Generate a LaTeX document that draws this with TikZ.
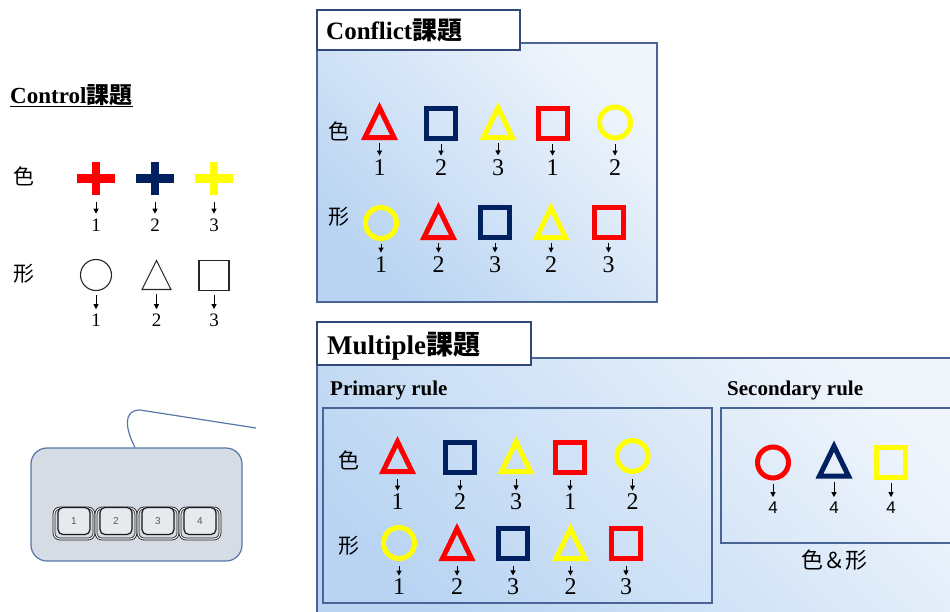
\documentclass[tikz,border=0pt]{standalone}
\usepackage{fontspec}
\setmainfont{Liberation Serif}
\newfontfamily\cjk{Noto Sans CJK JP}
\newfontfamily\arial{Liberation Sans}
\usetikzlibrary{arrows.meta}

\definecolor{gRed}{RGB}{255,0,0}
\definecolor{gNavy}{RGB}{0,32,96}
\definecolor{gYellow}{RGB}{255,255,0}
\definecolor{panelLine}{RGB}{74,100,150}
\definecolor{headLine}{RGB}{50,72,120}
\definecolor{panelDeep}{RGB}{184,212,242}
\definecolor{panelPale}{RGB}{240,245,252}
\definecolor{padFill}{RGB}{214,220,228}
\definecolor{padLine}{RGB}{88,118,168}

\tikzset{
  glyphsq/.style={draw=#1, line width=5pt, minimum width=29pt, minimum height=30pt,
                  inner sep=0pt, outer sep=2.5pt},
  glyphci/.style={circle, draw=#1, line width=5pt, minimum size=31pt,
                  inner sep=0pt, outer sep=2.5pt},
  glyphbox/.style={minimum width=37pt, minimum height=38pt, inner sep=0pt, outer sep=0pt},
  crossbox/.style={minimum width=38pt, minimum height=33pt, inner sep=0pt, outer sep=0pt},
  num/.style={font=\fontsize{24}{24}\selectfont, inner sep=0pt, outer sep=0pt},
  pick/.style={-{Triangle[length=5pt,width=5pt]}, line width=0.9pt,
               shorten <=3pt, shorten >=4.5pt},
  rowlbl/.style={font=\cjk\fontsize{21}{21}\selectfont, inner sep=0pt},
  headtxt/.style={font=\bfseries\fontsize{#1}{#1}\selectfont, inner sep=0pt},
  rulelbl/.style={font=\bfseries\fontsize{21}{21}\selectfont, inner sep=0pt},
  panel/.style={draw=panelLine, line width=1.3pt, bottom color=panelDeep,
                top color=panelPale, shading angle=-45},
  headbox/.style={draw=headLine, line width=1.3pt, fill=white},
  subbox/.style={draw=panelLine, line width=1.3pt},
  keycap/.style={draw=black!90, line width=0.8pt, double=padFill!40!white,
                 double distance=1.1pt, rounded corners=6pt,
                 minimum width=40pt, minimum height=31pt, inner sep=0pt},
  keytop/.style={draw=black!90, line width=1.2pt, rounded corners=5pt, fill=padFill!60!white,
                 minimum width=32pt, minimum height=27pt, inner sep=0pt,
                 font=\arial\fontsize{10}{10}\selectfont, text=black!65},
}

% glyphs: #1 name, #2 centre, #3 colour
\newcommand\glyphTri[3]{%
  \node[glyphbox] (#1) at (#2) {};
  \draw[line width=5pt, line join=miter, draw=#3]
    ([shift={(0,-13.3)}]#1.center) -- ([shift={(-14.5,16.5)}]#1.center)
    -- ([shift={(14.5,16.5)}]#1.center) -- cycle;}
\newcommand\glyphSq[3]{\node[glyphsq=#3] (#1) at (#2) {};}
\newcommand\glyphCi[3]{\node[glyphci=#3] (#1) at (#2) {};}
\newcommand\glyphCross[3]{%
  \node[crossbox] (#1) at (#2) {};
  \fill[#3] ([shift={(-19,-4.5)}]#1.center) rectangle ([shift={(19,4.5)}]#1.center);
  \fill[#3] ([shift={(-4,-16.5)}]#1.center) rectangle ([shift={(4,16.5)}]#1.center);}
% key number under a glyph: #1 glyph name, #2 position, #3 text
\newcommand\answer[3]{%
  \node[num] (#1n) at (#2) {#3};
  \draw[pick] (#1) -- (#1n);}

\begin{document}
\begin{tikzpicture}[x=1pt,y=-1pt]
\useasboundingbox (0,0) rectangle (950,611);
\clip (0,0) rectangle (950,611);

%% ---------------- Control task ----------------
\node[headtxt=23, anchor=base west] (ctrlT) at (10,103) {Control{\cjk\bfseries 課題}};
\draw[line width=1pt] ([yshift=-3pt]ctrlT.base west) -- ([yshift=-3pt]ctrlT.base east);

\node[rowlbl] (ctrlColour) at (24,176) {色};
\node[rowlbl] (ctrlShape) at (24,274) {形};

\begin{scope}[num/.style={font=\fontsize{19}{19}\selectfont, inner sep=0pt, outer sep=0pt},
              pick/.style={-{Triangle[length=5pt,width=5pt]}, line width=0.9pt,
                           shorten <=7pt, shorten >=5pt}]
  \glyphCross{k1}{96,178}{gRed}
  \glyphCross{k2}{155,178}{gNavy}
  \glyphCross{k3}{214,178}{gYellow}
  \answer{k1}{96,225}{1}
  \answer{k2}{155,225}{2}
  \answer{k3}{214,225}{3}
\end{scope}

\begin{scope}[num/.style={font=\fontsize{19}{19}\selectfont, inner sep=0pt, outer sep=0pt},
              pick/.style={-{Triangle[length=5pt,width=5pt]}, line width=0.9pt,
                           shorten <=4pt, shorten >=4.5pt}]
  \node[circle, draw=black!85, line width=1.1pt, minimum size=31pt, inner sep=0pt,
        outer sep=0.5pt] (f1) at (96,275) {};
  \node[minimum width=30pt, minimum height=30pt, inner sep=0pt] (f2) at (156.5,275) {};
  \draw[black!85, line width=1.1pt, line join=miter]
    ([shift={(0,-14.5)}]f2.center) -- ([shift={(-14.5,14.5)}]f2.center)
    -- ([shift={(14.5,14.5)}]f2.center) -- cycle;
  \node[draw=black!85, line width=1.1pt, minimum width=30pt, minimum height=30pt,
        inner sep=0pt, outer sep=0.5pt] (f3) at (214,275.5) {};
  \answer{f1}{96,320}{1}
  \answer{f2}{156.5,320}{2}
  \answer{f3}{214,320}{3}
\end{scope}

%% keypad
\node[draw=padLine, line width=1.2pt, fill=padFill, rounded corners=16pt,
      minimum width=211pt, minimum height=113pt] (pad) at (136.5,504.5) {};
\coordinate (cableEnd) at (256,428);
\draw[padLine, line width=1.2pt] ([xshift=-1.5pt]pad.north)
  .. controls (126,430) and (122,410) .. (140,410) -- (cableEnd);
\foreach \k/\x in {1/74,2/116,3/158,4/200}{
  \node[keycap] (cap\k) at (\x,523.5) {};
  \node[keytop] (key\k) at (\x,521) {\k};
}

%% ---------------- Conflict task ----------------
\path[panel] (317,43) rectangle (657,302);
\node[headbox, minimum width=203pt, minimum height=40pt, inner sep=0pt] (confHead) at (418.5,30) {};
\node[headtxt=25, anchor=base west] (confT) at (326,39) {Conflict{\cjk\bfseries 課題}};

\node[rowlbl] (confColour) at (339,131) {色};
\node[rowlbl] (confShape) at (339,217) {形};

\glyphTri{c11}{379.5,121}{gRed}
\glyphSq{c12}{441,123.5}{gNavy}
\glyphTri{c13}{498,121}{gYellow}
\glyphSq{c14}{552.5,123.5}{gRed}
\glyphCi{c15}{615,122.5}{gYellow}
\answer{c11}{379.5,168}{1}
\answer{c12}{441,168}{2}
\answer{c13}{498,168}{3}
\answer{c14}{552.5,168}{1}
\answer{c15}{615,168}{2}

\glyphCi{c21}{381,223}{gYellow}
\glyphTri{c22}{438.5,221}{gRed}
\glyphSq{c23}{495,222}{gNavy}
\glyphTri{c24}{551,221}{gYellow}
\glyphSq{c25}{608.5,222}{gRed}
\answer{c21}{381,265}{1}
\answer{c22}{438.5,265}{2}
\answer{c23}{495,265}{3}
\answer{c24}{551,265}{2}
\answer{c25}{608.5,265}{3}

%% ---------------- Multiple task ----------------
\path[panel] (317,358) rectangle (985,640);
\node[headbox, minimum width=214pt, minimum height=43pt, inner sep=0pt] (multHead) at (424,343.5) {};
\node[headtxt=27, anchor=base west] (multT) at (327,354) {Multiple{\cjk\bfseries 課題}};

\node[rulelbl, anchor=base west] (primT) at (330,395) {Primary rule};
\node[rulelbl, anchor=base west] (secT) at (727,395) {Secondary rule};

\draw[subbox] (323,408) rectangle (712,603);
\draw[subbox] (721,408) rectangle (970,543);

\node[rowlbl] (multColour) at (349,460) {色};
\node[rowlbl] (multShape) at (349,546) {形};

\begin{scope}[pick/.style={-{Triangle[length=5pt,width=5pt]}, line width=0.9pt,
                           shorten <=5pt, shorten >=3.5pt}]
  \glyphTri{m11}{397.5,455}{gRed}
  \glyphSq{m12}{460,457}{gNavy}
  \glyphTri{m13}{516,455}{gYellow}
  \glyphSq{m14}{570,457}{gRed}
  \glyphCi{m15}{632.5,456}{gYellow}
  \answer{m11}{397.5,502}{1}
  \answer{m12}{460,502}{2}
  \answer{m13}{516,502}{3}
  \answer{m14}{570,502}{1}
  \answer{m15}{632.5,502}{2}

  \glyphCi{m21}{399,543}{gYellow}
  \glyphTri{m22}{457,542}{gRed}
  \glyphSq{m23}{513,543}{gNavy}
  \glyphTri{m24}{570.5,542}{gYellow}
  \glyphSq{m25}{626,543}{gRed}
  \answer{m21}{399,587}{1}
  \answer{m22}{457,587}{2}
  \answer{m23}{513,587}{3}
  \answer{m24}{570.5,587}{2}
  \answer{m25}{626,587}{3}
\end{scope}

\begin{scope}[num/.style={font=\arial\fontsize{17}{17}\selectfont, inner sep=0pt, outer sep=0pt},
              pick/.style={-{Triangle[length=5pt,width=5pt]}, line width=0.9pt,
                           shorten <=3pt, shorten >=5pt}]
  \glyphCi{s1}{773,462.5}{gRed}
  \glyphTri{s2}{834,459.5}{gNavy}
  \glyphSq{s3}{891,462}{gYellow}
  \answer{s1}{773,508}{4}
  \answer{s2}{834,508}{4}
  \answer{s3}{891,508}{4}
\end{scope}

\node[font=\cjk\fontsize{22}{22}\selectfont, inner sep=0pt] (bothT) at (834,560) {色＆形};

\end{tikzpicture}
\end{document}
